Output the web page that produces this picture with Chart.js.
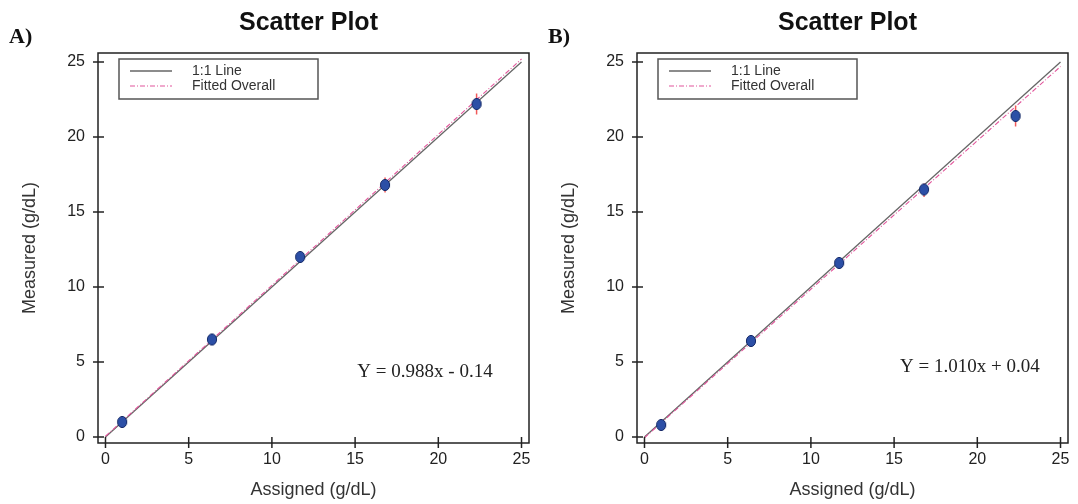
<!DOCTYPE html>
<html>
<head>
<meta charset="utf-8">
<script src="https://cdn.jsdelivr.net/npm/chart.js@4.4.0/dist/chart.umd.min.js"></script>
<style>
  body { margin: 0; background: #fff; width: 1078px; height: 504px; overflow: hidden; position: relative; }
  .panel { position: absolute; top: 0; width: 539px; height: 504px; }
</style>
</head>
<body>
<div class="panel" style="left:0"><canvas id="chartA" width="539" height="504"></canvas></div>
<div class="panel" style="left:539px"><canvas id="chartB" width="539" height="504"></canvas></div>
<script>
// DATA
const assigned = [1.0, 6.4, 11.7, 16.8, 22.3];

const measuredA = [1.0, 6.5, 12.0, 16.8, 22.2];
const errLowA = [0.6, 6.3, 11.8, 16.3, 21.5];
const errHighA = [1.4, 6.7, 12.2, 17.3, 22.9];

const measuredB = [0.8, 6.4, 11.6, 16.5, 21.4];
const errLowB = [0.4, 6.2, 11.4, 16.0, 20.7];
const errHighB = [1.2, 6.6, 11.8, 16.9, 22.1];

const lineX = [0, 25];
const identityY = [0, 25];
const fittedA = [0.05, 25.2];
const fittedB = [-0.05, 24.7];

const tickValues = [0, 5, 10, 15, 20, 25];

const SANS = '"Liberation Sans", Arial, sans-serif';
const SERIF = '"Liberation Serif", "Times New Roman", serif';

// blue oval marker
function makeDot() {
  const c = document.createElement('canvas');
  c.width = 12; c.height = 14;
  const g = c.getContext('2d');
  g.beginPath();
  g.ellipse(6, 7, 4.6, 5.6, 0, 0, Math.PI * 2);
  g.fillStyle = '#2c4fa6';
  g.fill();
  g.lineWidth = 1;
  g.strokeStyle = '#152a68';
  g.stroke();
  return c;
}
const dot = makeDot();

// frame, ticks, legend, texts, error bars
const decor = {
  id: 'decor',
  beforeDatasetDraw(chart, args, opts) {
    if (!chart.data.datasets[args.index].isPoints) return;
    const ctx = chart.ctx, x = chart.scales.x, y = chart.scales.y;
    ctx.save();
    ctx.strokeStyle = '#f05a5a';
    ctx.lineWidth = 1.5;
    assigned.forEach((v, i) => {
      const px = x.getPixelForValue(v);
      ctx.beginPath();
      ctx.moveTo(px, y.getPixelForValue(opts.errLow[i]));
      ctx.lineTo(px, y.getPixelForValue(opts.errHigh[i]));
      ctx.stroke();
    });
    ctx.restore();
  },
  afterDraw(chart, args, opts) {
    const ctx = chart.ctx, a = chart.chartArea;
    const x = chart.scales.x, y = chart.scales.y;
    ctx.save();
    // frame
    ctx.strokeStyle = '#222';
    ctx.lineWidth = 1.5;
    ctx.strokeRect(a.left, a.top, a.right - a.left, a.bottom - a.top);
    // ticks crossing the axes
    tickValues.forEach(v => {
      const px = x.getPixelForValue(v);
      ctx.beginPath(); ctx.moveTo(px, a.bottom - 6); ctx.lineTo(px, a.bottom + 5); ctx.stroke();
      const py = y.getPixelForValue(v);
      ctx.beginPath(); ctx.moveTo(a.left - 5, py); ctx.lineTo(a.left + 6, py); ctx.stroke();
    });
    // legend
    const lx = a.left + 21, ly = a.top + 6;
    ctx.strokeStyle = '#555';
    ctx.lineWidth = 1.5;
    ctx.strokeRect(lx, ly, 199, 40);
    ctx.lineWidth = 1.3;
    ctx.strokeStyle = '#666';
    ctx.beginPath(); ctx.moveTo(lx + 11, ly + 12); ctx.lineTo(lx + 53, ly + 12); ctx.stroke();
    ctx.strokeStyle = '#e2559b';
    ctx.lineWidth = 1.1;
    ctx.setLineDash([5, 2, 1, 2]);
    ctx.beginPath(); ctx.moveTo(lx + 11, ly + 27); ctx.lineTo(lx + 53, ly + 27); ctx.stroke();
    ctx.setLineDash([]);
    ctx.fillStyle = '#333';
    ctx.font = '14px ' + SANS;
    ctx.textAlign = 'left';
    ctx.textBaseline = 'middle';
    ctx.fillText('1:1 Line', lx + 73, ly + 12);
    ctx.fillText('Fitted Overall', lx + 73, ly + 27);
    // title
    ctx.fillStyle = '#111';
    ctx.font = 'bold 25px ' + SANS;
    ctx.textAlign = 'center';
    ctx.fillText('Scatter Plot', (a.left + a.right) / 2 - 5, 23);
    // panel label
    ctx.font = 'bold 22px ' + SERIF;
    ctx.textAlign = 'left';
    ctx.fillText(opts.label, 9, 37);
    // equation
    ctx.font = '19px ' + SERIF;
    ctx.textAlign = 'center';
    ctx.fillStyle = '#222';
    ctx.fillText(opts.equation, x.getPixelForValue(opts.eqX), y.getPixelForValue(opts.eqY));
    ctx.restore();
  }
};

function makeChart(id, measured, fitted, errLow, errHigh, label, equation, eqX, eqY) {
  const ctx = document.getElementById(id);
  return new Chart(ctx, {
    type: 'scatter',
    data: {
      datasets: [
        {
          label: '1:1 Line',
          data: lineX.map((v, i) => ({ x: v, y: identityY[i] })),
          showLine: true,
          pointRadius: 0,
          borderColor: '#666',
          borderWidth: 1.3,
          order: 3,
        },
        {
          label: 'Fitted Overall',
          data: lineX.map((v, i) => ({ x: v, y: fitted[i] })),
          showLine: true,
          pointRadius: 0,
          borderColor: '#e2559b',
          borderWidth: 1.1,
          borderDash: [5, 2, 1, 2],
          order: 2,
        },
        {
          label: 'Measured',
          isPoints: true,
          data: assigned.map((v, i) => ({ x: v, y: measured[i] })),
          pointStyle: dot,
          order: 1,
        },
      ]
    },
    options: {
      responsive: false,
      animation: false,
      devicePixelRatio: 1,
      layout: { padding: { left: 0, right: 10, top: 53, bottom: 0 } },
      plugins: {
        legend: { display: false },
        tooltip: { enabled: false },
        decor: { label: label, equation: equation, eqX: eqX, eqY: eqY, errLow: errLow, errHigh: errHigh },
      },
      scales: {
        x: {
          type: 'linear',
          min: -0.45,
          max: 25.45,
          afterBuildTicks: s => { s.ticks = tickValues.map(v => ({ value: v })); },
          afterFit: s => { s.height = 61; },
          grid: { display: false, drawTicks: false },
          border: { display: false },
          ticks: { padding: 7, color: '#222', font: { family: SANS, size: 16 } },
          title: { display: true, text: 'Assigned (g/dL)', color: '#333', font: { family: SANS, size: 18 }, padding: { top: 0, bottom: 3 } },
        },
        y: {
          type: 'linear',
          min: -0.4,
          max: 25.6,
          afterBuildTicks: s => { s.ticks = tickValues.map(v => ({ value: v })); },
          afterFit: s => { s.width = 98; },
          grid: { display: false, drawTicks: false },
          border: { display: false },
          ticks: { padding: 13, color: '#222', font: { family: SANS, size: 16 } },
          title: { display: true, text: 'Measured (g/dL)', color: '#333', font: { family: SANS, size: 18 }, padding: { top: 19, bottom: 0 } },
        }
      }
    },
    plugins: [decor]
  });
}

makeChart('chartA', measuredA, fittedA, errLowA, errHighA, 'A)', 'Y = 0.988x - 0.14', 19.2, 4.3);
makeChart('chartB', measuredB, fittedB, errLowB, errHighB, 'B)', 'Y = 1.010x + 0.04', 19.55, 4.65);
</script>
</body>
</html>
